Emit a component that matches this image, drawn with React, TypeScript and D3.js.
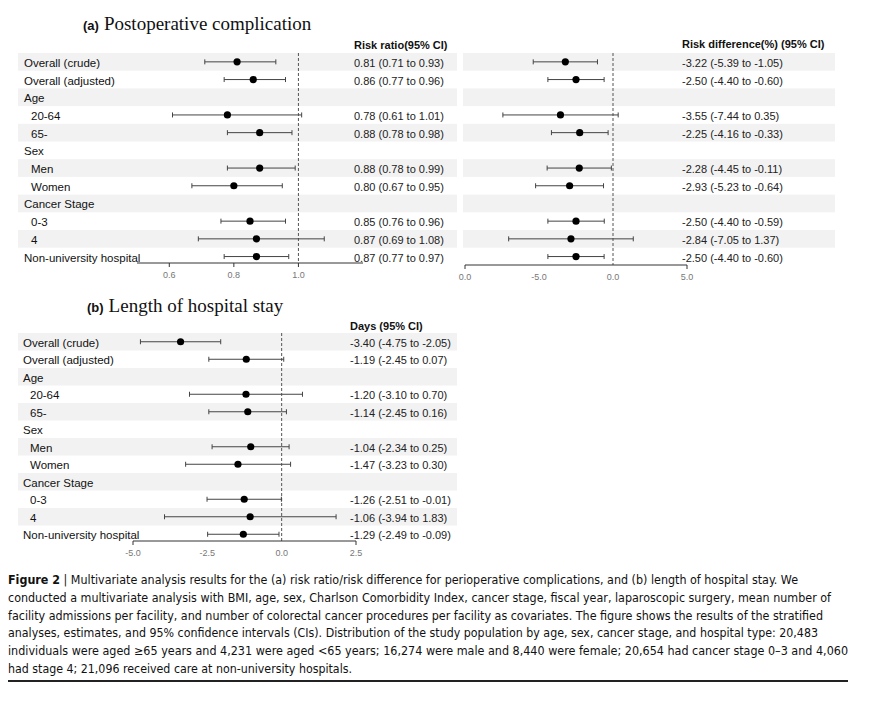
import * as d3 from "d3";

// ── Data ──
const rowLabels = [
  "Overall (crude)",
  "Overall (adjusted)",
  "Age",
  "20-64",
  "65-",
  "Sex",
  "Men",
  "Women",
  "Cancer Stage",
  "0-3",
  "4",
  "Non-university hospital",
];
const rowIndent = [false, false, false, true, true, false, true, true, false, true, true, false];

// (a) risk ratio
const rrEst = [0.81, 0.86, null, 0.78, 0.88, null, 0.88, 0.8, null, 0.85, 0.87, 0.87];
const rrLow = [0.71, 0.77, null, 0.61, 0.78, null, 0.78, 0.67, null, 0.76, 0.69, 0.77];
const rrHigh = [0.93, 0.96, null, 1.01, 0.98, null, 0.99, 0.95, null, 0.96, 1.08, 0.97];
const rrTicks = [0.6, 0.8, 1.0];

// (a) risk difference (%)
const rdEst = [-3.22, -2.5, null, -3.55, -2.25, null, -2.28, -2.93, null, -2.5, -2.84, -2.5];
const rdLow = [-5.39, -4.4, null, -7.44, -4.16, null, -4.45, -5.23, null, -4.4, -7.05, -4.4];
const rdHigh = [-1.05, -0.6, null, 0.35, -0.33, null, -0.11, -0.64, null, -0.59, 1.37, -0.6];
const rdTicks = [-10, -5, 0, 5];
const rdTickLabels = ["0.0", "-5.0", "0.0", "5.0"];

// (b) length of stay (days)
const losEst = [-3.4, -1.19, null, -1.2, -1.14, null, -1.04, -1.47, null, -1.26, -1.06, -1.29];
const losLow = [-4.75, -2.45, null, -3.1, -2.45, null, -2.34, -3.23, null, -2.51, -3.94, -2.49];
const losHigh = [-2.05, 0.07, null, 0.7, 0.16, null, 0.25, 0.3, null, -0.01, 1.83, -0.09];
const losTicks = [-5, -2.5, 0, 2.5];

const captionLines = [
  " | Multivariate analysis results for the (a) risk ratio/risk difference for perioperative complications, and (b) length of hospital stay. We",
  "conducted a multivariate analysis with BMI, age, sex, Charlson Comorbidity Index, cancer stage, fiscal year, laparoscopic surgery, mean number of",
  "facility admissions per facility, and number of colorectal cancer procedures per facility as covariates. The figure shows the results of the stratified",
  "analyses, estimates, and 95% confidence intervals (CIs). Distribution of the study population by age, sex, cancer stage, and hospital type: 20,483",
  "individuals were aged \u226565 years and 4,231 were aged <65 years; 16,274 were male and 8,440 were female; 20,654 had cancer stage 0\u20133 and 4,060",
  "had stage 4; 21,096 received care at non-university hospitals.",
];
const captionEnds = [798, 831, 823, 818, 848, 352];

const SANS = "'Liberation Sans', Arial, sans-serif";
const SERIF = "'Liberation Serif', 'Times New Roman', serif";
const CAPTION = "'Liberation Sans Narrow', 'DejaVu Sans Condensed', sans-serif";

const fmt = (v: number) => v.toFixed(2);

interface ForestProps {
  x: d3.ScaleLinear<number, number>;
  est: (number | null)[];
  low: (number | null)[];
  high: (number | null)[];
  top: number;
  rowH: number;
  refValue: number;
  axisY: number;
  ticks: number[];
  tickLabels: string[];
  tickMarks: number[];
}

function Forest({ x, est, low, high, top, rowH, refValue, axisY, ticks, tickLabels, tickMarks }: ForestProps) {
  const cy = (i: number) => top + i * rowH + rowH / 2;
  const [r0, r1] = x.range();
  return (
    <g>
      <line
        x1={x(refValue)}
        x2={x(refValue)}
        y1={top}
        y2={axisY}
        stroke="#555"
        strokeWidth={1}
        strokeDasharray="3,2"
      />
      {est.map((e, i) => {
        if (e == null) return null;
        const lo = x(low[i] as number);
        const hi = x(high[i] as number);
        const y = cy(i);
        return (
          <g key={i}>
            <line x1={lo} x2={hi} y1={y} y2={y} stroke="#444" strokeWidth={1} />
            <line x1={lo} x2={lo} y1={y - 2.5} y2={y + 2.5} stroke="#444" strokeWidth={1} />
            <line x1={hi} x2={hi} y1={y - 2.5} y2={y + 2.5} stroke="#444" strokeWidth={1} />
            <circle cx={x(e)} cy={y} r={3.6} fill="#000" />
          </g>
        );
      })}
      {/* axis */}
      <line x1={r0} x2={r1} y1={axisY} y2={axisY} stroke="#333" strokeWidth={1} />
      {tickMarks.map((t) => (
        <line key={"m" + t} x1={x(t)} x2={x(t)} y1={axisY} y2={axisY + 4} stroke="#333" strokeWidth={1} />
      ))}
      {ticks.map((t, i) => (
        <text
          key={"t" + i}
          x={x(t)}
          y={axisY + 15}
          textAnchor="middle"
          fontFamily={SANS}
          fontSize={9}
          fill="#777"
        >
          {tickLabels[i]}
        </text>
      ))}
    </g>
  );
}

function Bands({ top, rowH, x0, x1 }: { top: number; rowH: number; x0: number; x1: number }) {
  return (
    <g>
      {rowLabels.map((_, i) =>
        i % 2 === 0 ? (
          <rect key={i} x={x0} y={top + i * rowH} width={x1 - x0} height={rowH} fill="#f2f2f2" />
        ) : null
      )}
    </g>
  );
}

function Labels({ top, rowH, x }: { top: number; rowH: number; x: number }) {
  return (
    <g fontFamily={SANS} fontSize={11.5} fill="#111">
      {rowLabels.map((l, i) => (
        <text key={i} x={rowIndent[i] ? x + 7 : x} y={top + i * rowH + rowH / 2 + 5}>
          {l}
        </text>
      ))}
    </g>
  );
}

function Values({
  est, low, high, top, rowH, x,
}: { est: (number | null)[]; low: (number | null)[]; high: (number | null)[]; top: number; rowH: number; x: number }) {
  return (
    <g fontFamily={SANS} fontSize={11} fill="#222">
      {est.map((e, i) =>
        e == null ? null : (
          <text key={i} x={x} y={top + i * rowH + rowH / 2 + 5}>
            {`${fmt(e)} (${fmt(low[i] as number)} to ${fmt(high[i] as number)})`}
          </text>
        )
      )}
    </g>
  );
}

export default function App() {
  const W = 875;
  const H = 711;

  // panel (a)
  const aTop = 53;
  const aRowH = 17.7;
  const rrX = d3.scaleLinear().domain([0.5, 1.2]).range([137, 363]);
  const rdX = d3.scaleLinear().domain([-10, 5]).range([465, 687]);

  // panel (b)
  const bTop = 333;
  const bRowH = 17.5;
  const losX = d3.scaleLinear().domain([-5, 2.5]).range([133, 356]);

  return (
    <svg
      width={W}
      height={H}
      style={{ position: "absolute", left: 0, top: 0, background: "#fff" }}
    >
      {/* ── (a) ── */}
      <text x={83} y={30} fill="#111">
        <tspan fontFamily={SANS} fontWeight="bold" fontSize={13}>(a)</tspan>
        <tspan fontFamily={SERIF} fontSize={19} dx={5}>Postoperative complication</tspan>
      </text>
      <text x={354} y={49} fontFamily={SANS} fontWeight="bold" fontSize={11} fill="#111">
        Risk ratio(95% CI)
      </text>
      <text x={682} y={48} fontFamily={SANS} fontWeight="bold" fontSize={11} fill="#111">
        Risk difference(%) (95% CI)
      </text>
      <Bands top={aTop} rowH={aRowH} x0={18} x1={457} />
      <Bands top={aTop} rowH={aRowH} x0={463} x1={835} />
      <Labels top={aTop} rowH={aRowH} x={24} />
      <Forest
        x={rrX}
        est={rrEst}
        low={rrLow}
        high={rrHigh}
        top={aTop}
        rowH={aRowH}
        refValue={1}
        axisY={263}
        ticks={rrTicks}
        tickLabels={rrTicks.map((t) => t.toFixed(1))}
        tickMarks={rrTicks}
      />
      <Values est={rrEst} low={rrLow} high={rrHigh} top={aTop} rowH={aRowH} x={354} />
      <Forest
        x={rdX}
        est={rdEst}
        low={rdLow}
        high={rdHigh}
        top={aTop}
        rowH={aRowH}
        refValue={0}
        axisY={265}
        ticks={rdTicks}
        tickLabels={rdTickLabels}
        tickMarks={rdX.domain()}
      />
      <Values est={rdEst} low={rdLow} high={rdHigh} top={aTop} rowH={aRowH} x={682} />

      {/* ── (b) ── */}
      <text x={87} y={312} fill="#111">
        <tspan fontFamily={SANS} fontWeight="bold" fontSize={13}>(b)</tspan>
        <tspan fontFamily={SERIF} fontSize={19} dx={5}>Length of hospital stay</tspan>
      </text>
      <text x={350} y={330} fontFamily={SANS} fontWeight="bold" fontSize={11} fill="#111">
        Days (95% CI)
      </text>
      <Bands top={bTop} rowH={bRowH} x0={18} x1={457} />
      <Labels top={bTop} rowH={bRowH} x={23} />
      <Forest
        x={losX}
        est={losEst}
        low={losLow}
        high={losHigh}
        top={bTop}
        rowH={bRowH}
        refValue={0}
        axisY={541}
        ticks={losTicks}
        tickLabels={losTicks.map((t) => t.toFixed(1))}
        tickMarks={losX.domain()}
      />
      <Values est={losEst} low={losLow} high={losHigh} top={bTop} rowH={bRowH} x={350} />

      {/* ── caption ── */}
      <g fontFamily={CAPTION} fontSize={12} fill="#111">
        {captionLines.map((line, i) => (
          <text
            key={i}
            x={8}
            y={584 + i * 17.8}
            textLength={captionEnds[i] - 8}
            lengthAdjust="spacingAndGlyphs"
          >
            {i === 0 ? (
              <>
                <tspan fontWeight="bold">Figure 2</tspan>
                {line}
              </>
            ) : (
              line
            )}
          </text>
        ))}
      </g>
      <line x1={8} x2={848} y1={681} y2={681} stroke="#222" strokeWidth={2} />
    </svg>
  );
}
